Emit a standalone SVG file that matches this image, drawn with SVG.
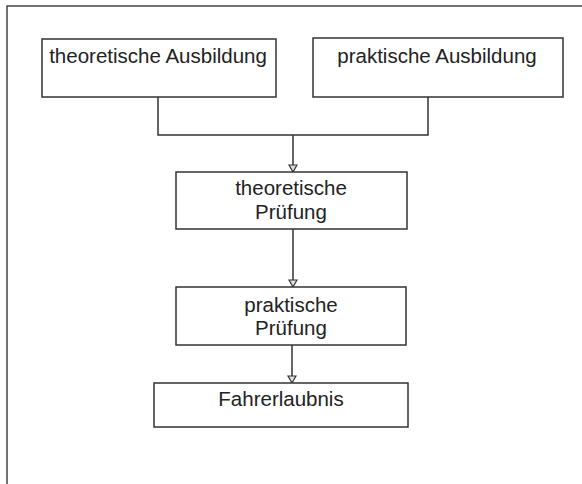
<svg xmlns="http://www.w3.org/2000/svg" width="582" height="484" viewBox="0 0 582 484">
<style>
.box{fill:#fff;stroke:#333;stroke-width:1.5}
.lbl{font-family:"Liberation Sans",Arial,sans-serif;font-size:20.5px;fill:#222;text-anchor:middle}
.con{fill:none;stroke:#333;stroke-width:1.5}
.frame{fill:none;stroke:#444;stroke-width:1.5}
</style>
<defs>
<marker id="arr" markerWidth="10" markerHeight="10" refX="8" refY="5" orient="auto" markerUnits="userSpaceOnUse">
<path d="M1,1 L8,5 L1,9 Z" fill="#ddd" stroke="#333" stroke-width="1.2"/>
</marker>
</defs>
<rect width="582" height="484" fill="#fff"/>
<path class="frame" d="M7,484 L7,6 L582,6"/>
<g id="connectors">
<path class="con" d="M158,97 L158,135 L428,135 L428,97"/>
<path class="con" d="M293,135 L293,172" marker-end="url(#arr)"/>
<path class="con" d="M293,229 L293,287" marker-end="url(#arr)"/>
<path class="con" d="M292,345 L292,383" marker-end="url(#arr)"/>
</g>
<g id="n1">
<rect class="box" x="42" y="39" width="234" height="58"/>
<text class="lbl" x="158" y="63">theoretische Ausbildung</text>
</g>
<g id="n2">
<rect class="box" x="313" y="38" width="250" height="59"/>
<text class="lbl" x="437" y="63">praktische Ausbildung</text>
</g>
<g id="n3">
<rect class="box" x="176" y="172" width="231" height="57"/>
<text class="lbl" x="291" y="195">theoretische</text>
<text class="lbl" x="291" y="219">Prüfung</text>
</g>
<g id="n4">
<rect class="box" x="176" y="287" width="230" height="58"/>
<text class="lbl" x="291" y="312">praktische</text>
<text class="lbl" x="291" y="335">Prüfung</text>
</g>
<g id="n5">
<rect class="box" x="154" y="383" width="254" height="44"/>
<text class="lbl" x="281" y="406">Fahrerlaubnis</text>
</g>
</svg>
